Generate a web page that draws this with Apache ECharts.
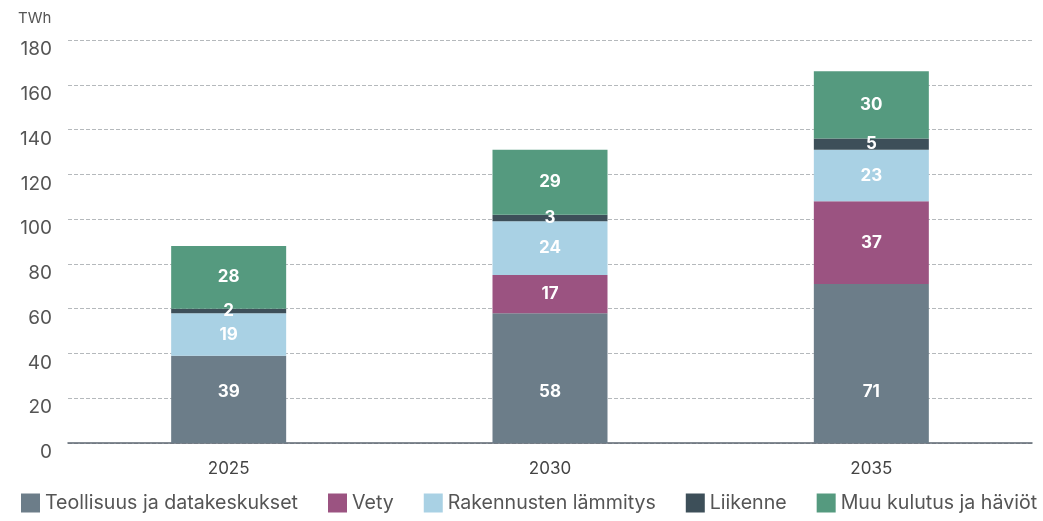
<!DOCTYPE html>
<html>
<head>
<meta charset="utf-8">
<script src="https://cdn.jsdelivr.net/npm/echarts@6/dist/echarts.min.js"></script>
<style>
  html, body { margin: 0; padding: 0; background: #fff; }
  #chart { width: 1043px; height: 521px; }
</style>
</head>
<body>
<div id="chart"></div>
<script>
// vuodet ja sarjat (TWh)
const years = ["2025", "2030", "2035"];
const teollisuus = [39, 58, 71];
const vety = [0, 17, 37];
const rakennukset = [19, 24, 23];
const liikenne = [2, 3, 5];
const muu = [28, 29, 30];

const seriesNames = [
  "Teollisuus ja datakeskukset",
  "Vety",
  "Rakennusten lämmitys",
  "Liikenne",
  "Muu kulutus ja häviöt",
];
const seriesData = [teollisuus, vety, rakennukset, liikenne, muu];
const colors = ["#6c7d89", "#9b5381", "#a9d1e4", "#3d4f59", "#559a7f"];

const chart = echarts.init(document.getElementById("chart"));

const series = seriesNames.map((name, i) => ({
  name: name,
  type: "bar",
  stack: "total",
  barWidth: 115,
  data: seriesData[i].map((v) => (v === 0 ? null : v)),
  itemStyle: { color: colors[i] },
  label: {
    show: true,
    // alimman osan luvut ovat samalla korkeudella kaikissa pylväissä
    position: i === 0 ? "insideBottom" : "inside",
    distance: i === 0 ? 43 : 5,
    color: "#fff",
    fontSize: 17,
    fontWeight: "bold",
    fontFamily: "Inter",
  },
}));

chart.setOption({
  animation: false,
  textStyle: { fontFamily: "Inter" },
  color: colors,
  grid: { left: 68, right: 11, top: 40, bottom: 78 },
  legend: {
    bottom: 3,
    left: 16,
    itemWidth: 19,
    itemHeight: 19,
    itemGap: 30,
    icon: "rect",
    textStyle: { fontSize: 19.6, color: "#555", fontFamily: "Inter" },
    data: seriesNames,
  },
  xAxis: {
    type: "category",
    data: years,
    axisLine: { lineStyle: { color: "#5c6670", width: 1.5 } },
    axisTick: { show: false },
    axisLabel: { color: "#444", fontSize: 17, margin: 17 },
  },
  yAxis: {
    type: "value",
    min: 0,
    max: 180,
    interval: 20,
    name: "TWh",
    nameLocation: "end",
    nameGap: 14,
    nameTextStyle: { color: "#555", fontSize: 15, align: "left", padding: [0, 0, 0, -50] },
    axisLine: { show: false },
    axisTick: { show: false },
    axisLabel: { color: "#555", fontSize: 19, margin: 16, verticalAlign: "top" },
    splitLine: { lineStyle: { color: "#b5b9bc", type: [4, 2], width: 1 } },
  },
  series: series,
});
</script>
</body>
</html>
